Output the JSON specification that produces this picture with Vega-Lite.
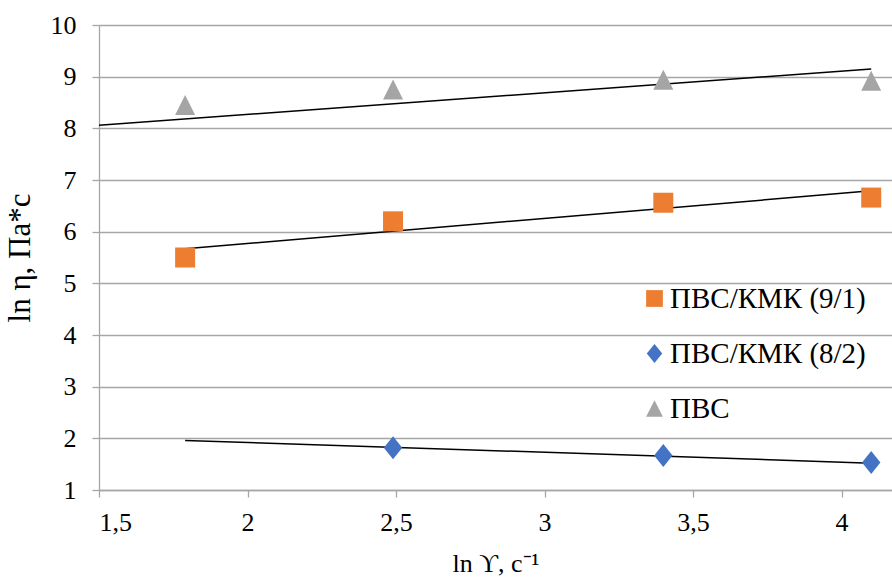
{
  "$schema": "https://vega.github.io/schema/vega-lite/v6.json",
  "width": 793,
  "height": 465,
  "autosize": {"type": "none"},
  "padding": {"left": 99, "top": 25, "right": 0, "bottom": 91},
  "background": "white",
  "config": {
    "view": {"stroke": null},
    "font": "Liberation Serif"
  },
  "layer": [
    {
      "data": {"values": [
        {"series": "ПВС", "x": 1.5, "y": 8.06},
        {"series": "ПВС", "x": 4.1, "y": 9.15},
        {"series": "ПВС/КМК (9/1)", "x": 1.79, "y": 5.67},
        {"series": "ПВС/КМК (9/1)", "x": 4.1, "y": 6.79},
        {"series": "ПВС/КМК (8/2)", "x": 1.79, "y": 1.96},
        {"series": "ПВС/КМК (8/2)", "x": 4.1, "y": 1.52}
      ]},
      "mark": {"type": "line", "color": "#000", "strokeWidth": 1.5},
      "encoding": {
        "x": {"field": "x", "type": "quantitative", "scale": {"domain": [1.5, 4.17], "nice": false, "zero": false},
          "axis": {"values": [1.5, 2, 2.5, 3, 3.5, 4], "grid": false, "tickSize": 7, "labelPadding": 12,
            "labelFont": "Liberation Serif", "labelFontSize": 26, "labelColor": "#000",
            "titleFont": "Liberation Serif", "titleFontSize": 26, "titleColor": "#000", "titleFontWeight": "normal",
            "domainColor": "#a6a6a6", "tickColor": "#a6a6a6", "domainWidth": 1.3, "tickWidth": 1.3,
            "labelExpr": "replace(toString(datum.value), '.', ',')", "title": "ln ϒ, c⁻¹", "titlePadding": 15}},
        "y": {"field": "y", "type": "quantitative", "scale": {"domain": [1, 10], "nice": false, "zero": false},
          "axis": {"values": [1, 2, 3, 4, 5, 6, 7, 8, 9, 10], "grid": true, "tickSize": 7, "labelPadding": 16,
            "labelFont": "Liberation Serif", "labelFontSize": 26, "labelColor": "#000",
            "titleFont": "Liberation Serif", "titleFontSize": 31, "titleColor": "#000", "titleFontWeight": "normal",
            "domainColor": "#a6a6a6", "tickColor": "#a6a6a6", "gridColor": "#a6a6a6", "domainWidth": 1.3, "tickWidth": 1.3, "gridWidth": 1.3,
            "title": "ln η, Па*с", "titlePadding": 14}},
        "detail": {"field": "series"}
      }
    },
    {
      "data": {"values": [
        {"series": "ПВС", "x": 1.79, "y": 8.45},
        {"series": "ПВС", "x": 2.49, "y": 8.75},
        {"series": "ПВС", "x": 3.40, "y": 8.94},
        {"series": "ПВС", "x": 4.10, "y": 8.92},
        {"series": "ПВС/КМК (9/1)", "x": 1.79, "y": 5.5},
        {"series": "ПВС/КМК (9/1)", "x": 2.49, "y": 6.2},
        {"series": "ПВС/КМК (9/1)", "x": 3.40, "y": 6.56},
        {"series": "ПВС/КМК (9/1)", "x": 4.10, "y": 6.66},
        {"series": "ПВС/КМК (8/2)", "x": 2.49, "y": 1.82},
        {"series": "ПВС/КМК (8/2)", "x": 3.40, "y": 1.67},
        {"series": "ПВС/КМК (8/2)", "x": 4.10, "y": 1.53}
      ]},
      "mark": {"type": "point", "filled": true, "opacity": 1, "size": 400},
      "encoding": {
        "x": {"field": "x", "type": "quantitative"},
        "y": {"field": "y", "type": "quantitative"},
        "color": {"field": "series", "type": "nominal",
          "scale": {"domain": ["ПВС/КМК (9/1)", "ПВС/КМК (8/2)", "ПВС"], "range": ["#ED7D31", "#4472C4", "#A5A5A5"]},
          "legend": {"orient": "none", "legendX": 541, "legendY": 259, "title": null, "labelFont": "Liberation Serif", "labelFontSize": 29, "labelLimit": 400, "labelColor": "#000", "symbolSize": 280, "rowPadding": 25, "labelOffset": 1, "symbolStrokeWidth": 0}},
        "shape": {"field": "series", "type": "nominal",
          "scale": {"domain": ["ПВС/КМК (9/1)", "ПВС/КМК (8/2)", "ПВС"], "range": ["square", "M0,-1.15L0.92,0L0,1.15L-0.92,0Z", "M0,-1L1,1L-1,1Z"]}}
      }
    }
  ]
}
